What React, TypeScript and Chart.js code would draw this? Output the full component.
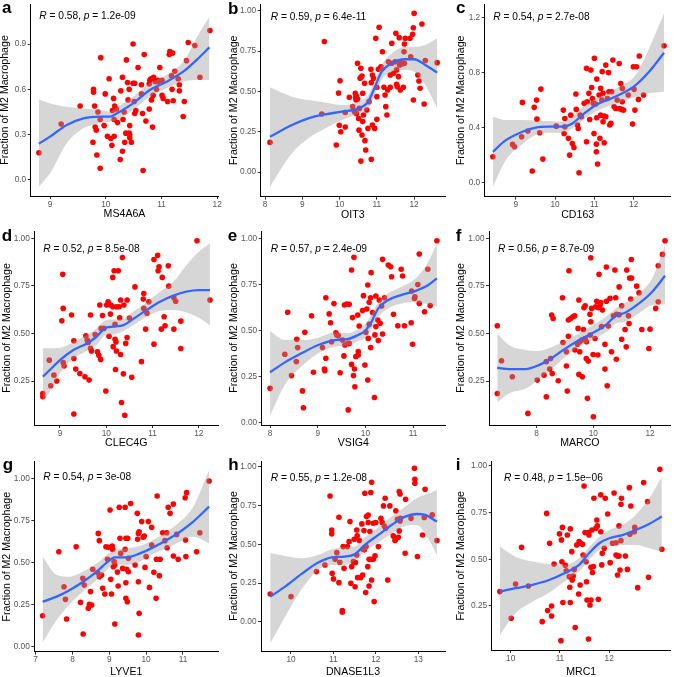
import React, { useEffect, useRef } from 'react';
import { Chart, registerables } from 'chart.js';
Chart.register(...registerables);

// ---------------- data ----------------
const aX = [8.80,9.20,9.54,9.78,9.78,9.80,9.77,9.81,9.83,9.84,9.90,9.91,9.90,9.86,9.99,9.97,10.03,10.06,10.09,10.11,10.12,10.14,10.15,10.15,10.16,10.19,10.21,10.26,10.27,10.30,10.30,10.31,10.33,10.34,10.36,10.37,10.39,10.40,10.42,10.42,10.43,10.43,10.43,10.46,10.49,10.49,10.51,10.52,10.52,10.54,10.58,10.64,10.64,10.66,10.67,10.69,10.72,10.78,10.78,10.79,10.81,10.82,10.84,10.85,10.86,10.89,10.91,10.93,10.94,10.97,11.01,11.03,11.01,11.11,11.14,11.15,11.18,11.20,11.19,11.21,11.24,11.30,11.32,11.32,11.41,11.39,11.45,11.48,11.60,11.69,11.87];
const aY = [0.18,0.37,0.49,0.60,0.58,0.49,0.25,0.35,0.33,0.165,0.077,0.81,0.40,0.45,0.57,0.36,0.29,0.67,0.275,0.23,0.46,0.54,0.29,0.40,0.49,0.47,0.38,0.135,0.59,0.19,0.68,0.40,0.45,0.25,0.31,0.795,0.645,0.53,0.31,0.60,0.36,0.30,0.28,0.25,0.90,0.64,0.52,0.64,0.44,0.46,0.745,0.57,0.63,0.44,0.062,0.83,0.39,0.635,0.47,0.66,0.67,0.53,0.35,0.56,0.68,0.65,0.60,0.66,0.65,0.745,0.56,0.54,0.66,0.52,0.83,0.85,0.69,0.84,0.60,0.525,0.72,0.67,0.63,0.59,0.52,0.42,0.79,0.91,0.89,0.68,0.99];
const aSX = [8.80,9.0,9.30,9.60,9.90,10.08,10.20,10.49,10.79,11.09,11.39,11.69,11.86];
const aFit = [0.24,0.287,0.364,0.408,0.419,0.419,0.441,0.507,0.596,0.651,0.717,0.816,0.878];
const aLo = [-0.044,0.044,0.243,0.342,0.375,0.386,0.397,0.463,0.551,0.607,0.651,0.662,0.662];
const aHi = [0.534,0.507,0.485,0.474,0.463,0.452,0.481,0.551,0.640,0.695,0.783,0.98,1.08];

const bX = [8.13,9.52,9.59,9.91,9.97,9.99,10.01,10.03,10.15,10.15,10.26,10.35,10.40,10.42,10.43,10.44,10.45,10.45,10.48,10.48,10.51,10.52,10.53,10.55,10.57,10.57,10.57,10.60,10.60,10.62,10.62,10.64,10.67,10.68,10.70,10.73,10.76,10.79,10.84,10.85,10.85,10.88,10.88,10.91,10.94,10.97,11.00,11.00,11.00,11.04,11.06,11.09,11.11,11.15,11.19,11.22,11.24,11.27,11.29,11.31,11.36,11.36,11.40,11.40,11.45,11.49,11.51,11.53,11.53,11.55,11.58,11.60,11.61,11.63,11.63,11.67,11.71,11.73,11.74,11.74,11.76,11.89,11.91,11.96,11.98,12.00,11.98,12.10,12.13,12.16,12.21,12.27,12.30,12.62];
const bY = [0.184,0.36,0.81,0.168,0.49,0.29,0.567,0.25,0.28,0.37,0.464,0.406,0.375,0.489,0.464,0.447,0.364,0.472,0.675,0.453,0.333,0.26,0.395,0.582,0.644,0.588,0.068,0.23,0.596,0.313,0.489,0.354,0.551,0.195,0.137,0.385,0.271,0.437,0.638,0.555,0.079,0.292,0.602,0.582,0.271,0.83,0.327,0.468,0.526,0.638,0.899,0.644,0.654,0.747,0.526,0.478,0.406,0.354,0.509,0.685,0.602,0.526,0.799,0.675,0.613,0.685,0.861,0.634,0.545,0.530,0.592,0.834,0.665,0.685,0.509,0.671,0.526,0.747,0.795,0.675,0.83,0.83,0.716,0.855,0.896,0.985,0.447,0.602,0.565,0.52,0.919,0.422,0.692,0.679];
const bSX = [8.13,8.72,9.16,9.61,10.06,10.51,10.77,10.95,11.13,11.40,11.76,12.0,12.30,12.62];
const bFit = [0.219,0.292,0.333,0.358,0.375,0.395,0.437,0.530,0.623,0.675,0.700,0.700,0.665,0.617];
const bLo = [-0.091,0.116,0.209,0.271,0.323,0.364,0.395,0.478,0.571,0.623,0.634,0.623,0.540,0.395];
const bHi = [0.526,0.468,0.447,0.431,0.416,0.437,0.478,0.571,0.665,0.737,0.778,0.778,0.789,0.830];

const cX = [8.42,8.92,8.97,9.15,9.17,9.31,9.42,9.47,9.53,9.54,9.61,9.64,9.69,10.03,10.21,10.23,10.25,10.25,10.34,10.37,10.40,10.44,10.48,10.53,10.54,10.57,10.59,10.61,10.64,10.67,10.74,10.80,10.80,10.82,10.86,10.88,10.91,10.93,10.95,10.97,10.99,11.00,11.03,11.05,11.05,11.06,11.08,11.06,11.12,11.14,11.16,11.16,11.19,11.20,11.22,11.22,11.25,11.25,11.29,11.29,11.33,11.36,11.37,11.39,11.42,11.44,11.47,11.50,11.54,11.58,11.63,11.64,11.67,11.69,11.71,11.71,11.74,11.86,11.97,11.99,12.01,12.03,12.07,12.12,12.14,12.25,12.77];
const cY = [0.187,0.277,0.26,0.333,0.583,0.374,0.083,0.547,0.60,0.461,0.362,0.68,0.17,0.41,0.527,0.357,0.466,0.406,0.321,0.199,0.49,0.284,0.255,0.644,0.532,0.418,0.393,0.07,0.49,0.478,0.576,0.296,0.831,0.588,0.649,0.459,0.819,0.692,0.612,0.576,0.357,0.904,0.571,0.279,0.223,0.753,0.134,0.471,0.637,0.321,0.49,0.685,0.60,0.807,0.442,0.649,0.289,0.483,0.478,0.855,0.612,0.80,0.661,0.418,0.43,0.661,0.892,0.551,0.539,0.60,0.867,0.539,0.721,0.532,0.685,0.588,0.527,0.637,0.425,0.843,0.678,0.527,0.843,0.605,0.921,0.637,0.996];
const cSX = [8.42,8.75,9.17,9.51,9.85,10.19,10.44,10.69,11.03,11.37,11.71,12.05,12.39,12.77];
const cFit = [0.223,0.308,0.369,0.40,0.406,0.406,0.43,0.49,0.563,0.605,0.649,0.709,0.806,0.945];
const cLo = [-0.032,0.163,0.279,0.345,0.362,0.362,0.393,0.449,0.515,0.556,0.588,0.624,0.649,0.661];
const cHi = [0.478,0.454,0.454,0.449,0.447,0.442,0.478,0.547,0.61,0.653,0.709,0.782,0.976,1.23];

const dX = [8.63,8.63,8.77,8.80,8.87,8.93,9.04,9.06,9.07,9.07,9.09,9.25,9.30,9.30,9.30,9.34,9.43,9.54,9.56,9.59,9.61,9.63,9.66,9.66,9.68,9.76,9.81,9.84,9.86,9.88,9.89,9.92,9.95,9.99,10.01,10.04,10.06,10.09,10.10,10.14,10.14,10.15,10.17,10.19,10.19,10.20,10.21,10.22,10.22,10.26,10.28,10.29,10.31,10.31,10.33,10.35,10.37,10.38,10.40,10.42,10.45,10.45,10.50,10.55,10.62,10.76,10.80,10.81,10.81,10.85,10.88,10.92,11.03,11.03,11.11,11.12,11.14,11.19,11.21,11.25,11.27,11.34,11.35,11.46,11.46,11.50,11.61,11.61,11.96,12.24];
const dY = [0.185,0.168,0.36,0.225,0.281,0.25,0.567,0.811,0.632,0.348,0.329,0.597,0.462,0.369,0.077,0.313,0.29,0.273,0.488,0.465,0.453,0.255,0.597,0.422,0.408,0.495,0.404,0.386,0.65,0.364,0.527,0.595,0.527,0.198,0.65,0.667,0.486,0.602,0.65,0.641,0.795,0.431,0.83,0.548,0.47,0.311,0.456,0.408,0.641,0.83,0.641,0.583,0.676,0.39,0.137,0.90,0.288,0.65,0.07,0.448,0.676,0.479,0.581,0.27,0.745,0.352,0.681,0.71,0.632,0.523,0.606,0.667,0.444,0.889,0.911,0.83,0.851,0.523,0.795,0.588,0.541,0.856,0.749,0.523,0.688,0.67,0.565,0.421,0.988,0.676];
const dSX = [8.63,8.78,9.0,9.29,9.58,9.79,9.99,10.15,10.37,10.58,10.87,11.16,11.45,11.73,12.0,12.24];
const dFit = [0.273,0.308,0.36,0.413,0.448,0.483,0.53,0.536,0.544,0.576,0.623,0.667,0.699,0.72,0.728,0.728];
const dLo = [0.142,0.194,0.29,0.369,0.408,0.439,0.492,0.495,0.513,0.544,0.588,0.618,0.623,0.611,0.583,0.544];
const dHi = [0.422,0.422,0.425,0.456,0.492,0.527,0.57,0.574,0.576,0.614,0.663,0.719,0.772,0.859,0.93,0.974];

const eX = [8.00,8.31,8.37,8.45,8.55,8.56,8.58,8.68,8.70,8.73,8.87,8.91,9.10,9.14,9.15,9.17,9.17,9.24,9.27,9.29,9.34,9.38,9.40,9.43,9.47,9.52,9.55,9.56,9.57,9.61,9.63,9.64,9.66,9.66,9.71,9.71,9.73,9.75,9.76,9.77,9.78,9.80,9.84,9.85,9.85,9.87,9.94,9.96,9.99,10.01,10.03,10.05,10.05,10.06,10.08,10.08,10.11,10.11,10.12,10.15,10.19,10.20,10.22,10.22,10.26,10.27,10.29,10.31,10.34,10.36,10.36,10.40,10.48,10.53,10.55,10.59,10.68,10.75,10.78,10.82,10.96,10.97,10.99,11.03,11.04,11.10,11.13,11.13,11.24,11.31,11.36,11.50];
const eY = [0.186,0.371,0.599,0.255,0.331,0.452,0.407,0.172,0.081,0.49,0.58,0.273,0.407,0.291,0.282,0.678,0.349,0.59,0.542,0.439,0.646,0.488,0.476,0.472,0.271,0.448,0.362,0.638,0.421,0.644,0.43,0.069,0.642,0.43,0.316,0.828,0.57,0.255,0.897,0.291,0.195,0.358,0.584,0.367,0.385,0.524,0.608,0.689,0.313,0.49,0.617,0.747,0.231,0.457,0.653,0.533,0.678,0.407,0.814,0.597,0.136,0.476,0.521,0.687,0.557,0.445,0.665,0.539,0.633,0.886,0.481,0.678,0.855,0.846,0.792,0.588,0.526,0.832,0.796,0.526,0.542,0.714,0.425,0.674,0.683,0.75,0.915,0.647,0.602,0.832,0.635,0.987];
const eSX = [8.0,8.31,8.66,9.01,9.36,9.64,9.85,9.99,10.13,10.27,10.48,10.76,11.04,11.32,11.50];
const eFit = [0.273,0.327,0.376,0.421,0.448,0.454,0.476,0.497,0.548,0.62,0.665,0.693,0.714,0.747,0.783];
const eLo = [0.038,0.204,0.304,0.376,0.412,0.418,0.443,0.457,0.508,0.575,0.62,0.647,0.653,0.642,0.629];
const eHi = [0.497,0.448,0.448,0.461,0.49,0.485,0.508,0.533,0.588,0.653,0.702,0.738,0.779,0.873,0.973];

const fX = [6.61,6.61,6.76,7.14,7.69,8.02,8.26,8.34,8.34,8.46,8.49,8.53,8.58,8.55,8.76,8.91,8.93,9.05,9.05,9.08,9.12,9.12,9.14,9.20,9.28,9.34,9.35,9.44,9.46,9.49,9.49,9.52,9.52,9.59,9.61,9.65,9.67,9.71,9.71,9.75,9.76,9.79,9.82,9.88,9.89,9.91,9.91,9.94,9.99,10.00,10.06,10.08,10.12,10.16,10.18,10.20,10.24,10.26,10.29,10.32,10.41,10.41,10.46,10.46,10.49,10.53,10.59,10.64,10.71,10.76,10.79,10.81,10.82,10.91,10.91,11.00,11.00,11.12,11.16,11.18,11.24,11.26,11.28,11.32,11.34,11.35,11.53,11.61,11.71,11.96,12.00,12.20,12.29,12.29,12.44,12.53];
const fY = [0.541,0.185,0.357,0.273,0.08,0.255,0.281,0.167,0.352,0.313,0.369,0.597,0.579,0.29,0.252,0.688,0.453,0.404,0.329,0.198,0.571,0.486,0.83,0.579,0.588,0.593,0.413,0.444,0.527,0.285,0.676,0.457,0.404,0.465,0.273,0.521,0.636,0.646,0.474,0.369,0.457,0.159,0.355,0.601,0.492,0.562,0.898,0.632,0.39,0.062,0.474,0.641,0.67,0.387,0.636,0.811,0.65,0.663,0.536,0.623,0.313,0.443,0.67,0.85,0.225,0.539,0.685,0.404,0.593,0.834,0.688,0.365,0.601,0.745,0.599,0.646,0.47,0.521,0.43,0.834,0.593,0.553,0.792,0.681,0.889,0.792,0.749,0.714,0.521,0.421,0.523,0.632,0.667,0.856,0.916,0.988];
const fSX = [6.61,7.02,7.61,8.08,8.55,9.02,9.49,9.96,10.44,10.79,11.14,11.61,12.08,12.53];
const fFit = [0.32,0.313,0.313,0.334,0.373,0.422,0.465,0.501,0.545,0.593,0.611,0.658,0.72,0.804];
const fLo = [0.138,0.185,0.211,0.26,0.316,0.378,0.43,0.465,0.506,0.553,0.562,0.606,0.65,0.653];
const fHi = [0.5,0.439,0.413,0.408,0.43,0.465,0.5,0.541,0.588,0.632,0.663,0.711,0.79,0.965];

const gX = [7.19,7.63,7.77,7.81,7.84,8.10,8.22,8.28,8.29,8.32,8.43,8.46,8.49,8.52,8.55,8.68,8.70,8.73,8.73,8.79,8.82,8.88,8.91,8.95,8.97,9.02,9.04,9.06,9.08,9.09,9.11,9.13,9.15,9.15,9.22,9.24,9.27,9.29,9.31,9.36,9.43,9.45,9.43,9.47,9.45,9.45,9.49,9.50,9.52,9.52,9.58,9.70,9.76,9.77,9.79,9.79,9.79,9.81,9.81,9.88,9.92,9.95,9.97,10.00,10.06,10.09,10.15,10.15,10.21,10.27,10.28,10.30,10.36,10.38,10.45,10.51,10.56,10.57,10.60,10.65,10.74,10.74,10.83,10.87,11.06,11.07,11.08,11.10,11.37,11.46,11.71];
const gY = [0.184,0.564,0.356,0.281,0.164,0.594,0.263,0.406,0.075,0.366,0.228,0.251,0.327,0.247,0.46,0.44,0.673,0.63,0.416,0.426,0.347,0.313,0.594,0.519,0.59,0.812,0.40,0.313,0.598,0.578,0.475,0.505,0.485,0.135,0.443,0.36,0.828,0.644,0.554,0.465,0.828,0.644,0.578,0.46,0.38,0.287,0.267,0.644,0.445,0.525,0.851,0.485,0.792,0.638,0.673,0.069,0.386,0.198,0.683,0.743,0.65,0.657,0.471,0.535,0.743,0.352,0.709,0.604,0.442,0.287,0.519,0.895,0.422,0.519,0.677,0.63,0.677,0.588,0.828,0.792,0.847,0.539,0.667,0.519,0.885,0.634,0.535,0.915,0.564,0.677,0.984];
const gSX = [7.19,7.57,7.93,8.29,8.66,8.93,9.15,9.47,9.83,10.19,10.56,10.92,11.28,11.71];
const gFit = [0.267,0.297,0.337,0.386,0.446,0.499,0.531,0.531,0.554,0.59,0.634,0.683,0.743,0.832];
const gLo = [0.024,0.158,0.253,0.327,0.396,0.455,0.489,0.485,0.505,0.55,0.584,0.624,0.653,0.614];
const gHi = [0.535,0.426,0.416,0.446,0.495,0.545,0.574,0.584,0.598,0.634,0.683,0.743,0.832,1.05];

const hX = [9.51,10.0,10.60,10.80,10.92,10.96,10.96,10.97,11.0,11.04,11.08,11.13,11.13,11.15,11.21,11.21,11.23,11.25,11.33,11.37,11.39,11.41,11.43,11.47,11.49,11.51,11.52,11.55,11.55,11.56,11.57,11.61,11.64,11.67,11.69,11.70,11.72,11.73,11.74,11.76,11.77,11.78,11.81,11.82,11.82,11.84,11.84,11.86,11.88,11.88,11.90,11.90,11.94,11.94,11.96,11.98,12.0,12.06,12.12,12.15,12.18,12.20,12.22,12.23,12.28,12.33,12.41,12.45,12.47,12.47,12.51,12.53,12.55,12.55,12.57,12.57,12.58,12.69,12.70,12.83,12.91,12.92,12.92,12.98,13.10,13.14,13.16,13.33,13.44];
const hY = [0.18,0.163,0.324,0.367,0.811,0.592,0.567,0.313,0.277,0.403,0.446,0.674,0.253,0.384,0.073,0.062,0.485,0.345,0.485,0.517,0.646,0.249,0.356,0.388,0.532,0.227,0.382,0.592,0.431,0.554,0.285,0.524,0.285,0.631,0.302,0.468,0.588,0.464,0.828,0.189,0.485,0.678,0.356,0.688,0.64,0.231,0.403,0.582,0.833,0.403,0.27,0.899,0.635,0.403,0.131,0.425,0.64,0.485,0.667,0.64,0.747,0.618,0.796,0.603,0.27,0.747,0.554,0.524,0.532,0.715,0.661,0.545,0.839,0.586,0.824,0.65,0.667,0.442,0.79,0.667,0.989,0.918,0.893,0.421,0.56,0.672,0.854,0.689,0.524];
const hSX = [9.51,9.86,10.25,10.64,10.96,11.27,11.51,11.74,12.06,12.37,12.69,12.96,13.16,13.44];
const hFit = [0.163,0.227,0.309,0.382,0.416,0.421,0.438,0.496,0.56,0.624,0.678,0.695,0.689,0.646];
const hLo = [-0.137,0.034,0.21,0.335,0.367,0.367,0.395,0.453,0.511,0.567,0.618,0.624,0.571,0.431];
const hHi = [0.446,0.425,0.41,0.431,0.468,0.481,0.485,0.545,0.609,0.678,0.742,0.796,0.818,0.85];

const iX = [9.78,10.01,10.10,10.22,10.36,10.73,10.75,10.79,10.83,10.83,10.88,10.64,10.99,11.02,11.03,11.04,11.05,11.06,11.11,11.13,11.15,11.19,11.20,11.21,11.21,11.24,11.25,11.27,11.29,11.31,11.34,11.38,11.39,11.41,11.42,11.46,11.47,11.49,11.51,11.53,11.54,11.55,11.58,11.58,11.59,11.61,11.63,11.63,11.65,11.66,11.68,11.69,11.73,11.75,11.76,11.78,11.83,11.83,11.85,11.86,11.90,11.92,11.97,12.02,12.07,12.10,12.14,12.14,12.17,12.17,12.20,12.20,12.22,12.24,12.24,12.25,12.33,12.37,12.41,12.42,12.44,12.51,12.52,12.58,12.70,12.78,12.80,13.03,13.07];
const iY = [0.327,0.184,0.368,0.564,0.357,0.746,0.225,0.586,0.25,0.196,0.475,0.166,0.636,0.064,0.604,0.487,0.671,0.268,0.468,0.439,0.63,0.407,0.35,0.663,0.268,0.541,0.389,0.41,0.446,0.134,0.577,0.314,0.595,0.362,0.586,0.58,0.523,0.893,0.643,0.487,0.38,0.282,0.643,0.073,0.63,0.255,0.457,0.282,0.657,0.429,0.461,0.827,0.666,0.711,0.679,0.286,0.845,0.648,0.47,0.532,0.559,0.827,0.743,0.482,0.586,0.855,0.589,0.523,0.518,0.416,0.518,0.679,0.443,0.6,0.795,0.827,0.518,0.446,0.884,0.634,0.786,0.648,0.671,0.348,0.911,0.809,0.404,0.982,0.554];
const iSX = [9.78,10.10,10.44,10.78,11.12,11.39,11.59,11.80,12.0,12.27,12.54,12.81,13.07];
const iFit = [0.327,0.345,0.363,0.389,0.429,0.47,0.532,0.586,0.613,0.63,0.657,0.689,0.729];
const iLo = [0.095,0.211,0.273,0.321,0.386,0.434,0.496,0.55,0.568,0.577,0.577,0.559,0.541];
const iHi = [0.568,0.514,0.488,0.475,0.47,0.505,0.564,0.621,0.657,0.684,0.738,0.827,0.943];

// labels / tick values
const genes = ['MS4A6A', 'OIT3', 'CD163', 'CLEC4G', 'VSIG4', 'MARCO', 'LYVE1', 'DNASE1L3', 'MRC1'];
const letters = ['a', 'b', 'c', 'd', 'e', 'f', 'g', 'h', 'i'];
const rValues = ['0.58', '0.59', '0.54', '0.52', '0.57', '0.56', '0.54', '0.55', '0.48'];
const pValues = ['1.2e-09', '6.4e-11', '2.7e-08', '8.5e-08', '2.4e-09', '8.7e-09', '3e-08', '1.2e-08', '1.5e\u221206'];
const xTicks = [[9, 10, 11, 12], [8, 9, 10, 11, 12], [9, 10, 11, 12], [9, 10, 11, 12], [8, 9, 10, 11], [8, 10, 12], [7, 8, 9, 10, 11], [10, 11, 12, 13], [10, 11, 12]];
const yTicks = [[0, 0.3, 0.6, 0.9], [0, 0.25, 0.5, 0.75, 1], [0, 0.4, 0.8, 1.2], [0.25, 0.5, 0.75, 1], [0, 0.25, 0.5, 0.75, 1], [0.25, 0.5, 0.75, 1], [0, 0.25, 0.5, 0.75, 1], [0, 0.25, 0.5, 0.75, 1], [0.25, 0.5, 0.75, 1]];
const yDecimals = [1, 2, 1, 2, 2, 2, 2, 2, 2];
const xRanges = [[8.653, 12.02], [7.88, 12.83], [8.212, 12.94], [8.446, 12.42], [7.825, 11.67], [6.318, 12.73], [6.964, 11.96], [9.293, 13.63], [9.614, 13.25]];
const yRanges = [[-0.106, 1.165], [-0.153, 1.043], [-0.104, 1.30], [0.019, 1.039], [-0.013, 1.04], [0.019, 1.039], [-0.03, 1.099], [-0.187, 1.036], [0.014, 1.023]];

const series = [
  [aX, aY, aSX, aFit, aLo, aHi], [bX, bY, bSX, bFit, bLo, bHi], [cX, cY, cSX, cFit, cLo, cHi],
  [dX, dY, dSX, dFit, dLo, dHi], [eX, eY, eSX, eFit, eLo, eHi], [fX, fY, fSX, fFit, fLo, fHi],
  [gX, gY, gSX, gFit, gLo, gHi], [hX, hY, hSX, hFit, hLo, hHi], [iX, iY, iSX, iFit, iLo, iHi],
];

// ---------------- layout (page pixels) ----------------
const boxes = [
  { L: 30.7, T: 4, R: 218.3, B: 196, yt: 5, xt: 214, ax: 8.6, ay: 12 },
  { L: 260.7, T: 4, R: 445, B: 196.7, yt: 234.3, xt: 215.5, ax: 10, ay: 12.7 },
  { L: 484.7, T: 4, R: 670.7, B: 196.7, yt: 461.3, xt: 215.5, ax: 8.6, ay: 12.7 },
  { L: 34.3, T: 231, R: 218.3, B: 425, yt: 7.3, xt: 443.5, ax: 9, ay: 18 },
  { L: 261.7, T: 231, R: 445, B: 425, yt: 234, xt: 443.5, ax: 9, ay: 18 },
  { L: 489, T: 231, R: 670.7, B: 425, yt: 461.3, xt: 443.5, ax: 9, ay: 18 },
  { L: 34.3, T: 461.7, R: 218.3, B: 651.7, yt: 7.3, xt: 671.7, ax: 9, ay: 15 },
  { L: 261, T: 461, R: 445, B: 651, yt: 234, xt: 671.7, ax: 9.7, ay: 16.7 },
  { L: 491.7, T: 461.7, R: 670.7, B: 650, yt: 461.3, xt: 671.7, ax: 12.3, ay: 16 },
];
const letterPos = [[2, 13.3], [228, 14], [456, 13.3], [1.7, 241.5], [227.7, 241.5], [455.7, 241.5], [2.7, 470.5], [228.3, 470.5], [455.7, 470.5]];

const FONT = "'Liberation Sans', Arial, Helvetica, sans-serif";
const TITLE_SIZE = 10.6;
const TICK_SIZE = 8.3;
const ANN_SIZE = 10.2;
const LH = 1.2;

function Panel({ idx }: { idx: number }) {
  const ref = useRef<HTMLCanvasElement>(null);
  const b = boxes[idx];
  const lh = TITLE_SIZE * LH;
  const yw = b.L - (b.yt - lh / 2);
  const cl = Math.floor(b.L - yw - 2);
  const ct = Math.floor(b.T - 10);
  const xh = b.xt + lh / 2 - b.B;
  const cr = Math.ceil(b.R + 9);
  const cb = Math.ceil(b.B + xh + 2);
  const W = cr - cl;
  const H = cb - ct;
  const pad = { left: b.L - yw - cl, top: b.T - ct, right: cr - b.R, bottom: cb - (b.B + xh) };

  useEffect(() => {
    const [xs, ys, sx, fit, lo, hi] = series[idx];
    const n = Math.min(xs.length, ys.length);
    const pts = [] as { x: number; y: number }[];
    for (let k = 0; k < n; k++) pts.push({ x: xs[k], y: ys[k] });
    const curve = (arr: number[]) => sx.map((x, k) => ({ x, y: arr[k] }));
    const dec = yDecimals[idx];

    const annPlugin = {
      id: 'corrLabel',
      afterDatasetsDraw(chart: any) {
        const ctx = chart.ctx;
        const a = chart.chartArea;
        ctx.save();
        ctx.fillStyle = '#000';
        ctx.textBaseline = 'middle';
        ctx.textAlign = 'left';
        let x = a.left + b.ax;
        const y = a.top + b.ay;
        const parts: [string, boolean][] = [['R', true], [' = ' + rValues[idx] + ', ', false], ['p', true], [' = ' + pValues[idx], false]];
        for (const [t, it] of parts) {
          ctx.font = `${it ? 'italic ' : ''}${ANN_SIZE}px ${FONT}`;
          ctx.fillText(t, x, y);
          x += ctx.measureText(t).width;
        }
        ctx.restore();
      },
    };

    const chart = new Chart(ref.current as HTMLCanvasElement, {
      type: 'scatter',
      data: {
        datasets: [
          { data: pts, backgroundColor: '#FF0000', borderWidth: 0, pointRadius: 2.8, pointHoverRadius: 2.8, order: 3 } as any,
          { data: curve(lo), showLine: true, pointRadius: 0, borderColor: 'rgba(0,0,0,0)', borderWidth: 0, fill: false, cubicInterpolationMode: 'monotone', order: 2 } as any,
          { data: curve(hi), showLine: true, pointRadius: 0, borderColor: 'rgba(0,0,0,0)', borderWidth: 0, fill: '-1', backgroundColor: 'rgba(153,153,153,0.4)', cubicInterpolationMode: 'monotone', order: 2 } as any,
          { data: curve(fit), showLine: true, pointRadius: 0, borderColor: '#3366FF', borderWidth: 2.3, fill: false, cubicInterpolationMode: 'monotone', order: 1 } as any,
        ],
      },
      options: {
        animation: false,
        responsive: false,
        devicePixelRatio: 1,
        events: [],
        layout: { padding: pad },
        plugins: { legend: { display: false }, tooltip: { enabled: false } },
        scales: {
          x: {
            type: 'linear',
            min: xRanges[idx][0],
            max: xRanges[idx][1],
            afterBuildTicks: (s: any) => { s.ticks = xTicks[idx].map((v) => ({ value: v })); },
            afterFit: (s: any) => { s.height = xh; },
            grid: { display: true, drawOnChartArea: false, drawTicks: true, tickLength: 3, color: '#333', lineWidth: 1 },
            border: { display: true, color: '#000', width: 1 },
            ticks: { autoSkip: false, maxRotation: 0, minRotation: 0, padding: 0.5, color: '#555', font: { family: FONT, size: TICK_SIZE }, callback: (v: any) => String(v) },
            title: { display: true, text: genes[idx], color: '#000', padding: 0, font: { family: FONT, size: TITLE_SIZE, lineHeight: LH } },
          },
          y: {
            type: 'linear',
            min: yRanges[idx][0],
            max: yRanges[idx][1],
            afterBuildTicks: (s: any) => { s.ticks = yTicks[idx].map((v) => ({ value: v })); },
            afterFit: (s: any) => { s.width = yw; },
            grid: { display: true, drawOnChartArea: false, drawTicks: true, tickLength: 3, color: '#333', lineWidth: 1 },
            border: { display: true, color: '#000', width: 1 },
            ticks: { autoSkip: false, padding: 1.5, color: '#555', font: { family: FONT, size: TICK_SIZE }, callback: (v: any) => Number(v).toFixed(dec) },
            title: { display: true, text: 'Fraction of M2 Macrophage', color: '#000', padding: 0, font: { family: FONT, size: TITLE_SIZE, lineHeight: LH } },
          },
        },
      } as any,
      plugins: [annPlugin],
    });
    return () => chart.destroy();
  }, [idx]);

  return (
    <canvas
      ref={ref}
      width={W}
      height={H}
      style={{ position: 'absolute', left: cl, top: ct, width: W, height: H }}
    />
  );
}

export default function App() {
  return (
    <div style={{ position: 'absolute', left: 0, top: 0, width: 674, height: 677, overflow: 'hidden', background: '#fff' }}>
      {letters.map((_, i) => <Panel key={i} idx={i} />)}
      {letters.map((l, i) => (
        <div
          key={'l' + i}
          style={{ position: 'absolute', left: letterPos[i][0], top: letterPos[i][1] - 14.4, font: `bold 17px ${FONT}`, lineHeight: '17px', color: '#000' }}
        >
          {l}
        </div>
      ))}
    </div>
  );
}
